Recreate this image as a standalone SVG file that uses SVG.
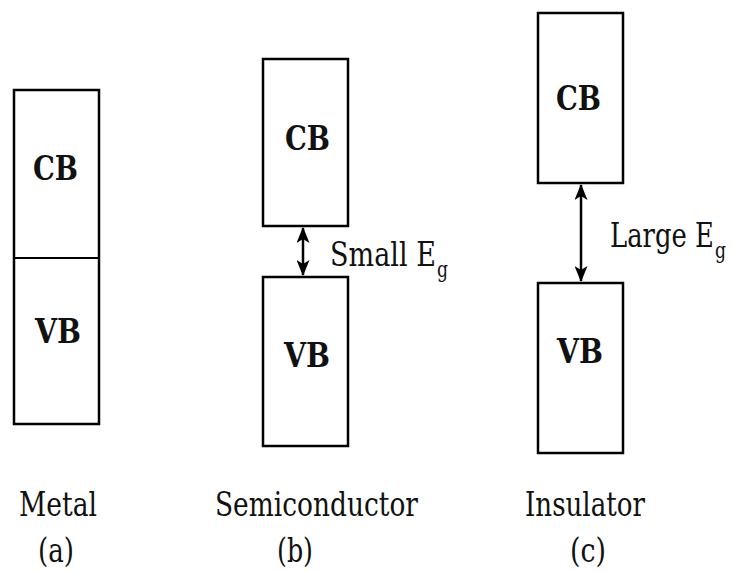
<svg xmlns="http://www.w3.org/2000/svg" width="732" height="572" viewBox="0 0 732 572">
<defs>
<style>
.box{fill:none;stroke:#000;stroke-width:2.5}
.div{stroke:#000;stroke-width:2}
text{fill:#111;font-family:"DejaVu Serif","Liberation Serif",serif}
.band{font-weight:bold;font-size:34px}
.lbl{font-size:34px}
.cap{font-size:34px}
.sub{font-size:22px}
.arr{stroke:#000;stroke-width:2.5;fill:none;marker-start:url(#ah);marker-end:url(#ah)}
</style>
<marker id="ah" viewBox="0 0 16 13" refX="15" refY="6.5" markerWidth="16" markerHeight="13" markerUnits="userSpaceOnUse" orient="auto-start-reverse">
<path d="M0,0 L16,6.5 L0,13 L4,6.5 Z" fill="#000"/>
</marker>
</defs>
<rect width="732" height="572" fill="#fff"/>
<g id="metal">
<rect class="box" x="14" y="90" width="85" height="334"/>
<line class="div" x1="14" y1="258" x2="99" y2="258"/>
<text class="band" x="33" y="180" textLength="45" lengthAdjust="spacingAndGlyphs">CB</text>
<text class="band" x="35" y="343" textLength="46" lengthAdjust="spacingAndGlyphs">VB</text>
<text class="cap" x="19" y="516" textLength="78" lengthAdjust="spacingAndGlyphs">Metal</text>
<text class="cap" x="38" y="562" textLength="36" lengthAdjust="spacingAndGlyphs">(a)</text>
</g>
<g id="semiconductor">
<rect class="box" x="263" y="59" width="85" height="167"/>
<rect class="box" x="263" y="277" width="85" height="169"/>
<text class="band" x="285" y="150" textLength="45" lengthAdjust="spacingAndGlyphs">CB</text>
<text class="band" x="284" y="367" textLength="46" lengthAdjust="spacingAndGlyphs">VB</text>
<text class="lbl" x="330" y="266"><tspan textLength="106" lengthAdjust="spacingAndGlyphs">Small E</tspan><tspan class="sub" dx="1" dy="11" textLength="11" lengthAdjust="spacingAndGlyphs">g</tspan></text>
<text class="cap" x="215" y="516" textLength="203" lengthAdjust="spacingAndGlyphs">Semiconductor</text>
<text class="cap" x="277" y="562" textLength="36" lengthAdjust="spacingAndGlyphs">(b)</text>
</g>
<g id="insulator">
<rect class="box" x="538" y="13" width="85" height="170"/>
<rect class="box" x="538" y="283" width="85" height="170"/>
<text class="band" x="556" y="110" textLength="45" lengthAdjust="spacingAndGlyphs">CB</text>
<text class="band" x="557" y="363" textLength="46" lengthAdjust="spacingAndGlyphs">VB</text>
<text class="lbl" x="610" y="247"><tspan textLength="104" lengthAdjust="spacingAndGlyphs">Large E</tspan><tspan class="sub" dx="1" dy="11" textLength="11" lengthAdjust="spacingAndGlyphs">g</tspan></text>
<text class="cap" x="525" y="516" textLength="120" lengthAdjust="spacingAndGlyphs">Insulator</text>
<text class="cap" x="570" y="562" textLength="36" lengthAdjust="spacingAndGlyphs">(c)</text>
</g>
<g id="connectors">
<line class="arr" x1="303" y1="228" x2="303" y2="275"/>
<line class="arr" x1="581" y1="185" x2="581" y2="281"/>
</g>
</svg>
